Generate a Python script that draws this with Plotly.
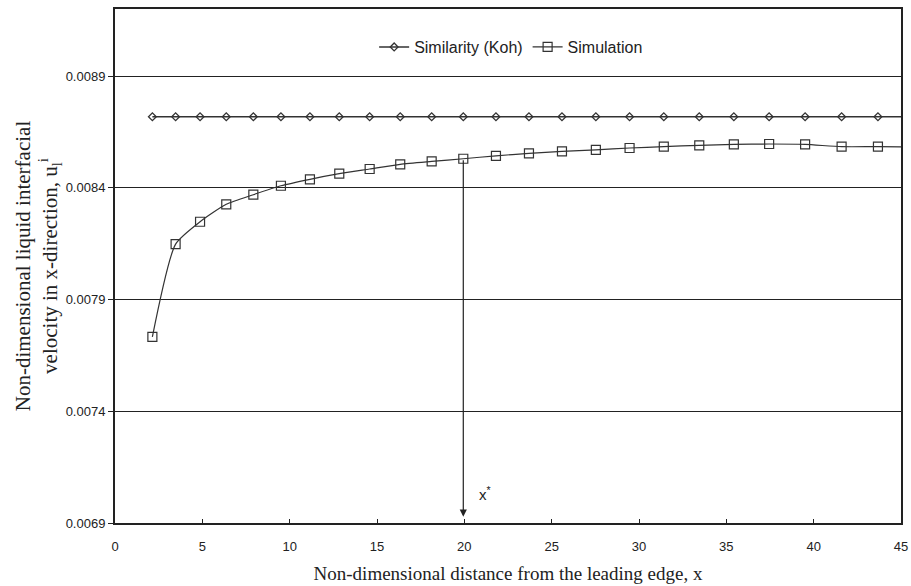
import plotly.graph_objects as go

x_vals = [2.14, 3.47, 4.87, 6.37, 7.92, 9.50, 11.16, 12.84, 14.58, 16.33,
          18.13, 19.94, 21.81, 23.70, 25.59, 27.53, 29.46, 31.42, 33.45, 35.43,
          37.45, 39.51, 41.60, 43.68]
similarity = [0.008718] * len(x_vals)
simulation = [0.007733, 0.008148, 0.008248, 0.008326, 0.008369, 0.008409, 0.008438,
              0.008463, 0.008484, 0.008505, 0.008518, 0.008530, 0.008543, 0.008554,
              0.008563, 0.008570, 0.008578, 0.008584, 0.008590, 0.008594, 0.008596,
              0.008594, 0.008584, 0.008584]
# continuation beyond the visible range (clipped at the right frame)
x_ext = 45.8
sim_ext = 0.008582

y_ticks = [0.0069, 0.0074, 0.0079, 0.0084, 0.0089]
x_ticks = [0, 5, 10, 15, 20, 25, 30, 35, 40, 45]
x_star_index = 11

fig = go.Figure()
fig.add_trace(go.Scatter(
    x=x_vals + [x_ext], y=similarity + [similarity[-1]],
    mode="lines+markers", name="Similarity (Koh)",
    line=dict(color="#333333", width=1.6),
    marker=dict(symbol="diamond-open", size=6, color="#333333", line=dict(width=1.3)),
))
fig.add_trace(go.Scatter(
    x=x_vals + [x_ext], y=simulation + [sim_ext],
    mode="lines+markers", name="Simulation",
    line=dict(color="#333333", width=1.2, shape="spline", smoothing=0.6),
    marker=dict(symbol="square-open", size=9, color="#333333", line=dict(width=1.2)),
))

fig.add_annotation(
    x=x_vals[x_star_index], y=0.006928,
    ax=x_vals[x_star_index], ay=simulation[x_star_index],
    xref="x", yref="y", axref="x", ayref="y",
    showarrow=True, arrowhead=2, arrowsize=1.2, arrowwidth=1.2, arrowcolor="#222222",
    text="",
)
fig.add_annotation(
    x=21.2, y=0.00703, xref="x", yref="y", showarrow=False,
    text="x<sup>*</sup>", font=dict(family="Liberation Sans, Arial", size=15, color="#222222"),
    xanchor="center", yanchor="middle",
)

fig.update_layout(
    width=911, height=586,
    margin=dict(l=115, r=10, t=9, b=63),
    paper_bgcolor="white", plot_bgcolor="white",
    font=dict(family="Liberation Sans, Arial", size=13, color="#222222"),
    showlegend=True,
    legend=dict(orientation="h", x=0.504, y=0.926, xanchor="center", yanchor="middle",
                font=dict(size=16, family="Liberation Sans, Arial", color="#222222"),
                bgcolor="rgba(0,0,0,0)", itemwidth=30, tracegroupgap=0),
)
fig.update_xaxes(
    range=[0, 45], tickvals=x_ticks, ticktext=[str(t) for t in x_ticks],
    showgrid=False, zeroline=False,
    showline=True, linecolor="#222222", linewidth=2, mirror=True,
    ticks="inside", ticklen=4, tickcolor="#222222",
    tickfont=dict(size=13), ticklabelstandoff=10,
    automargin=False,
    title=dict(text="Non-dimensional distance from the leading edge, x",
               font=dict(family="Liberation Serif, Times New Roman", size=19, color="#222222"),
               standoff=14),
)
fig.update_yaxes(
    range=[0.0069, 0.0092], tickvals=y_ticks, ticktext=[f"{t:.4f}" for t in y_ticks],
    showgrid=True, gridcolor="#222222", gridwidth=1.3, zeroline=False,
    showline=True, linecolor="#222222", linewidth=2, mirror=True,
    ticks="outside", ticklen=5, tickcolor="#222222",
    tickfont=dict(size=13),
    automargin=False,
    title=dict(text="Non-dimensional liquid interfacial<br>velocity in x-direction, u<sub>l</sub><sup>i</sup>",
               font=dict(family="Liberation Serif, Times New Roman", size=21, color="#222222"),
               standoff=2),
)

fig.write_html("out.html")
